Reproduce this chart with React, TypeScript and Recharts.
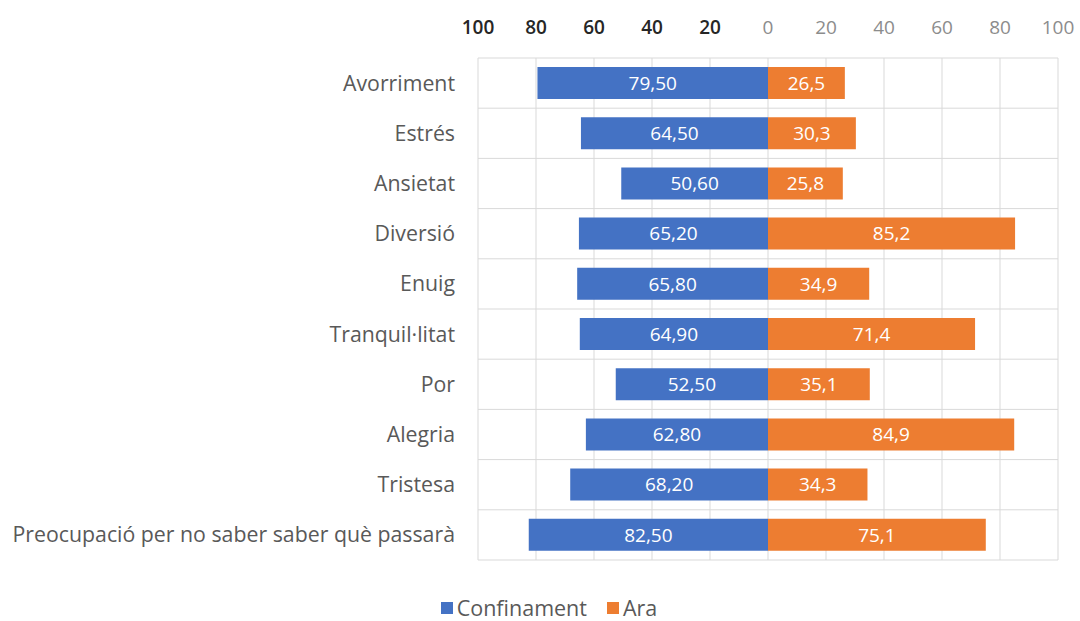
import React from "react";
import {
	BarChart,
	Bar,
	XAxis,
	YAxis,
	CartesianGrid,
	Legend,
	LabelList,
} from "recharts";

const categories = [
	"Avorriment",
	"Estrés",
	"Ansietat",
	"Diversió",
	"Enuig",
	"Tranquil·litat",
	"Por",
	"Alegria",
	"Tristesa",
	"Preocupació per no saber saber què passarà",
];

const confinament = [79.5, 64.5, 50.6, 65.2, 65.8, 64.9, 52.5, 62.8, 68.2, 82.5];
const ara = [26.5, 30.3, 25.8, 85.2, 34.9, 71.4, 35.1, 84.9, 34.3, 75.1];

const axisTicks = [-100, -80, -60, -40, -20, 0, 20, 40, 60, 80, 100];

// Confinament is drawn to the left of zero, so it is stored negative here
const data = categories.map((name, i) => ({
	name,
	confinament: -confinament[i],
	ara: ara[i],
}));

const BLUE = "#4472C4";
const ORANGE = "#ED7D31";
const FONT = "'Open Sans', sans-serif";

const legendItems = [
	{ label: "Confinament", color: BLUE },
	{ label: "Ara", color: ORANGE },
];

const fmt = (v: number, digits: number) =>
	Math.abs(v).toFixed(digits).replace(".", ",");

// left side ticks are dark and heavier, right side ones grey
function TopTick(props: any) {
	const { x, y, payload } = props;
	const left = payload.value < 0;
	return (
		<text
			x={x}
			y={y}
			dy={-16}
			textAnchor="middle"
			fontFamily={FONT}
			fontSize={19}
			fontWeight={left ? 600 : 400}
			fill={left ? "#262626" : "#8c8c8c"}
		>
			{Math.abs(payload.value)}
		</text>
	);
}

function LegendBox() {
	return (
		<div
			style={{
				display: "flex",
				justifyContent: "center",
				gap: 20,
				fontFamily: FONT,
				fontSize: 21.5,
				color: "#595959",
				paddingLeft: 40,
				lineHeight: "26px",
				height: 26,
			}}
		>
			{legendItems.map((it) => (
				<span key={it.label} style={{ display: "flex", alignItems: "center" }}>
					<span
						style={{
							display: "inline-block",
							width: 12,
							height: 12,
							background: it.color,
							marginRight: 4,
						}}
					/>
					{it.label}
				</span>
			))}
		</div>
	);
}

export default function App() {
	return (
		<div style={{ position: "absolute", left: 0, top: 0, background: "#fff" }}>
			<BarChart
				width={1080}
				height={621}
				data={data}
				layout="vertical"
				stackOffset="sign"
				margin={{ top: 10, right: 22, bottom: 35, left: 0 }}
			>
				<CartesianGrid
					stroke="#d9d9d9"
					horizontalCoordinatesGenerator={({ offset }: any) =>
						categories
							.map((_, i) => offset.top + (i * offset.height) / categories.length)
							.concat(offset.top + offset.height)
					}
				/>
				<XAxis
					type="number"
					orientation="top"
					domain={[-100, 100]}
					ticks={axisTicks}
					height={48}
					axisLine={false}
					tickLine={false}
					tick={<TopTick />}
					interval={0}
				/>
				<YAxis
					type="category"
					dataKey="name"
					width={478}
					axisLine={false}
					tickLine={false}
					interval={0}
					tickMargin={17}
					tick={{ fill: "#595959", fontSize: 21.3, fontFamily: FONT }}
				/>
				<Legend
					verticalAlign="bottom"
					height={26}
					wrapperStyle={{ bottom: 0 }}
					content={<LegendBox />}
				/>
				<Bar
					dataKey="confinament"
					name="Confinament"
					stackId="s"
					fill={BLUE}
					barSize={32}
					isAnimationActive={false}
				>
					<LabelList
						dataKey="confinament"
						position="center"
						fill="#ffffff"
						fontSize={19}
						fontFamily={FONT}
						formatter={(v: any) => fmt(Number(v), 2)}
					/>
				</Bar>
				<Bar
					dataKey="ara"
					name="Ara"
					stackId="s"
					fill={ORANGE}
					barSize={32}
					isAnimationActive={false}
				>
					<LabelList
						dataKey="ara"
						position="center"
						fill="#ffffff"
						fontSize={19}
						fontFamily={FONT}
						formatter={(v: any) => fmt(Number(v), 1)}
					/>
				</Bar>
			</BarChart>
		</div>
	);
}
